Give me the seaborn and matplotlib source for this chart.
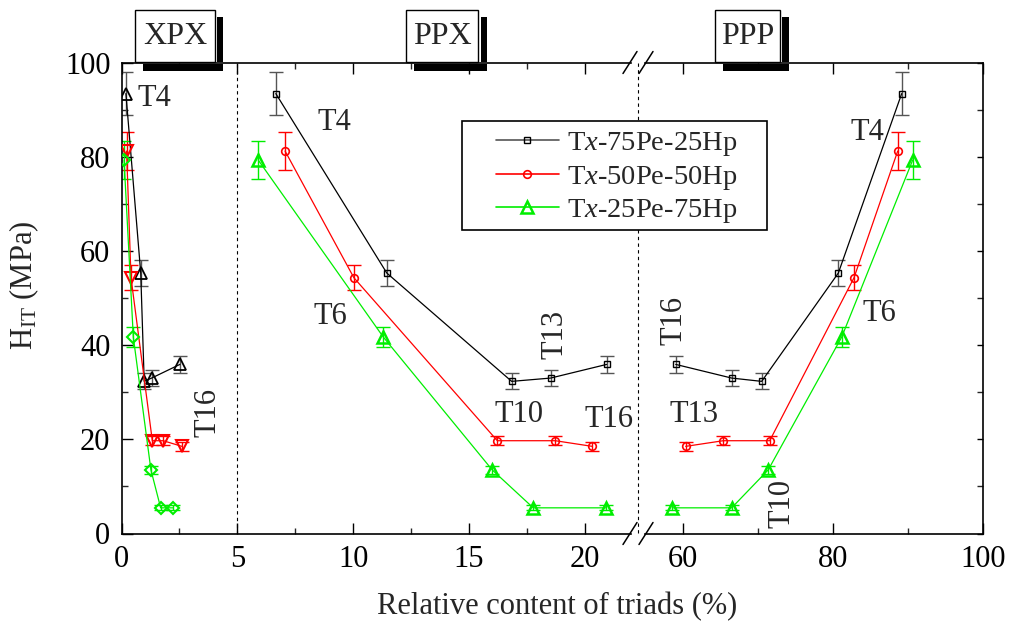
import numpy as np
import matplotlib
matplotlib.use('Agg')
import matplotlib.pyplot as plt
import seaborn as sns
import pandas as pd
from matplotlib.lines import Line2D
from matplotlib.patches import Rectangle
import matplotlib.ticker as mticker

sns.set_theme(style='ticks')
plt.rcParams['font.family'] = ['Liberation Serif', 'DejaVu Serif']
plt.rcParams['mathtext.fontset'] = 'custom'
plt.rcParams['mathtext.rm'] = 'Liberation Serif'
plt.rcParams['mathtext.it'] = 'Liberation Serif:italic'

# ---------------- data ----------------
triads = ['T4', 'T6', 'T10', 'T13', 'T16']
series = ['Tx-75Pe-25Hp', 'Tx-50Pe-50Hp', 'Tx-25Pe-75Hp']
hit_75 = [93.4, 55.3, 32.3, 33.0, 35.9]
hit_50 = [81.2, 54.3, 19.7, 19.7, 18.5]
hit_25 = [79.3, 41.7, 13.5, 5.45, 5.45]
err_75 = [4.6, 2.7, 1.7, 1.7, 1.8]
err_50 = [4.1, 2.7, 1.0, 1.0, 1.0]
err_25 = [4.0, 2.1, 0.8, 0.5, 0.5]
# relative triad contents (%)
xpx_75 = [0.19, 0.83, 0.98, 1.30, 2.52]
xpx_50 = [0.22, 0.41, 1.33, 1.80, 2.61]
xpx_25 = [0.11, 0.51, 1.27, 1.69, 2.24]
ppx_75 = [6.66, 11.45, 16.84, 18.52, 20.94]
ppx_50 = [7.06, 10.03, 16.22, 18.72, 20.32]
ppx_25 = [5.90, 11.30, 16.00, 17.77, 20.90]
ppp_75 = [89.2, 80.75, 70.53, 66.53, 59.07]
ppp_50 = [88.67, 82.84, 71.6, 65.4, 60.4]
ppp_25 = [90.67, 81.2, 71.4, 66.53, 58.6]

left_ticks = [0, 5, 10, 15, 20]
right_ticks = [60, 80, 100]
y_ticks = [0, 20, 40, 60, 80, 100]
region_labels = ['XPX', 'PPX', 'PPP']

# ---------------- figure ----------------
W, H = 1011, 635
fig = plt.figure(figsize=(W / 100, H / 100), dpi=100)
fx = lambda px: px / W
fy = lambda py: 1 - py / H

ax_top, ax_bot = 62.5, 533.5
axL = fig.add_axes([fx(121.5), fy(ax_bot), fx(631) - fx(121.5), fy(ax_top) - fy(ax_bot)])
axR = fig.add_axes([fx(645), fy(ax_bot), fx(982.7) - fx(645), fy(ax_top) - fy(ax_bot)])
axL.set_xlim(0, (631 - 121.5) / 23.17)
axR.set_xlim(60 - (682.7 - 645) / 7.5, 100)
for ax in (axL, axR):
    ax.set_ylim(0, 100)
    ax.set_facecolor('white')
    for s in ax.spines.values():
        s.set_linewidth(1.2)
        s.set_color('black')
axL.spines['right'].set_visible(False)
axR.spines['left'].set_visible(False)

colors = ['black', '#ff0000', '#00ee00']
ecolors = ['#555555', '#ff0000', '#00ee00']
hits = [hit_75, hit_50, hit_25]
errs = [err_75, err_50, err_25]
xpx = [xpx_75, xpx_50, xpx_25]
ppx = [ppx_75, ppx_50, ppx_25]
ppp = [ppp_75, ppp_50, ppp_25]
main_markers = [('s', 4.5, 1.0), ('o', 5.5, 1.2), ('^', 9, 1.8)]
xpx_markers = [('^', 8.5, 1.3), ('v', 8.5, 1.5), ('D', 6.5, 1.5)]


def draw(ax, xs, ys, es, color, ecolor, mk):
    m, ms, mew = mk
    ax.errorbar(xs, ys, yerr=es, fmt='none', ecolor=ecolor, elinewidth=1.0,
                capsize=5, capthick=1.0, zorder=2)
    sns.lineplot(x=xs, y=ys, ax=ax, color=color, marker=m, markersize=ms,
                 markerfacecolor='none', markeredgecolor=color, markeredgewidth=mew,
                 linewidth=0.9, sort=False, estimator=None, legend=False, zorder=3)


for i in range(3):
    draw(axL, xpx[i], hits[i], errs[i], colors[i], ecolors[i], xpx_markers[i])
    draw(axL, ppx[i], hits[i], errs[i], colors[i], ecolors[i], main_markers[i])
    draw(axR, ppp[i], hits[i], errs[i], colors[i], ecolors[i], main_markers[i])

# dashed separator at x = 5
axL.axvline(5, color='black', lw=0.8, ls=(0, (3, 3)), zorder=1)

# ticks
tick_kw = dict(direction='in', width=1.0, labelsize=22, colors='black')
axL.set_xticks(left_ticks)
axL.xaxis.set_minor_locator(mticker.MultipleLocator(2.5))
axR.set_xticks(right_ticks)
axR.xaxis.set_minor_locator(mticker.MultipleLocator(10))
for ax in (axL, axR):
    ax.set_yticks(y_ticks)
    ax.yaxis.set_minor_locator(mticker.MultipleLocator(10))
    ax.tick_params(which='major', length=8, pad=8, **tick_kw)
    ax.tick_params(which='minor', length=4.5, direction='in', width=1.0)
    ax.set_xlabel('')
    ax.set_ylabel('')
axL.tick_params(which='both', left=True, right=False, top=True, bottom=True, labelleft=True)
axR.tick_params(which='both', left=False, right=True, top=True, bottom=True,
                labelleft=False, labelright=False)
axR.tick_params(axis='y', which='major', length=4.5)
axL.set_yticklabels([str(v) for v in y_ticks])
axL.set_xticklabels([str(v) for v in left_ticks])
axR.set_xticklabels([str(v) for v in right_ticks])

# annotations
fs = 22
axL.text(0.67, 92.3, 'T4', fontsize=fs, ha='left', va='center')
axL.text(3.73, 25.6, 'T16', fontsize=fs, ha='center', va='center', rotation=90)
axL.text(9.17, 87.2, 'T4', fontsize=fs, ha='center', va='center')
axL.text(9.02, 46.0, 'T6', fontsize=fs, ha='center', va='center')
axL.text(17.16, 25.2, 'T10', fontsize=fs, ha='center', va='center')
axL.text(18.71, 42.2, 'T13', fontsize=fs, ha='center', va='center', rotation=90)
axL.text(21.04, 24.1, 'T16', fontsize=fs, ha='center', va='center')
axR.text(58.84, 45.3, 'T16', fontsize=fs, ha='center', va='center', rotation=90)
axR.text(61.57, 25.2, 'T13', fontsize=fs, ha='center', va='center')
axR.text(73.3, 6.4, 'T10', fontsize=fs, ha='center', va='center', rotation=90)
axR.text(86.24, 46.8, 'T6', fontsize=fs, ha='center', va='center')
axR.text(84.65, 85.1, 'T4', fontsize=fs, ha='center', va='center')

# break marks and second dashed separator (figure level)
for yc in (ax_top, ax_bot):
    for xc in (630, 646):
        fig.add_artist(Line2D([fx(xc - 7), fx(xc + 7)], [fy(yc + 11), fy(yc - 11)],
                              color='black', lw=1.1, zorder=4))
fig.add_artist(Line2D([fx(638), fx(638)], [fy(ax_top), fy(ax_bot)], color='black',
                      lw=0.8, ls=(0, (3, 3)), zorder=1))

# header boxes
boxes = [(135, 215, 217, 223, 143), (406, 478, 481, 487, 414), (715, 780, 782, 789, 723)]
for lab, (x0, x1, bx0, bx1, bb0) in zip(region_labels, boxes):
    fig.add_artist(Rectangle((fx(x0), fy(62)), fx(x1) - fx(x0), fy(10) - fy(62),
                             facecolor='white', edgecolor='black', lw=1.0, zorder=5))
    fig.add_artist(Rectangle((fx(bx0), fy(62)), fx(bx1) - fx(bx0), fy(17) - fy(62),
                             facecolor='black', edgecolor='none', zorder=5))
    fig.add_artist(Rectangle((fx(bb0), fy(71)), fx(bx1) - fx(bb0), fy(64) - fy(71),
                             facecolor='black', edgecolor='none', zorder=5))
    fig.text(fx((x0 + x1) / 2), fy(37), lab, fontsize=23, ha='center', va='center', zorder=6)

# legend
fig.add_artist(Rectangle((fx(461.7), fy(230)), fx(766.7) - fx(461.7), fy(120.7) - fy(230),
                         facecolor='white', edgecolor='black', lw=1.2, zorder=5))
handles = [Line2D([], [], color=c, marker=m, markersize=ms, markerfacecolor='none',
                  markeredgecolor=c, markeredgewidth=mew, lw=1.2)
           for c, (m, ms, mew) in zip(['#555555', '#ff0000', '#00ee00'], main_markers)]
handles[0].set_markeredgecolor('black')
labels = [s.replace('Tx', r'T$\mathit{x}$') for s in series]
leg = fig.legend(handles, labels, loc='upper left', bbox_to_anchor=(fx(496), fy(130)),
                 frameon=False, fontsize=20.5, handlelength=2.2, handletextpad=0.3,
                 labelspacing=0.2, borderpad=0, borderaxespad=0)
leg.set_zorder(6)

# axis labels
fig.text(fx(557), fy(607), 'Relative content of triads (%)', fontsize=22, ha='center', va='center')
fig.text(fx(24), fy(285), r'H$_{\mathrm{IT}}$ (MPa)', fontsize=22, ha='center', va='center',
         rotation=90)

fig.savefig('out.png', dpi=100, facecolor='white')
